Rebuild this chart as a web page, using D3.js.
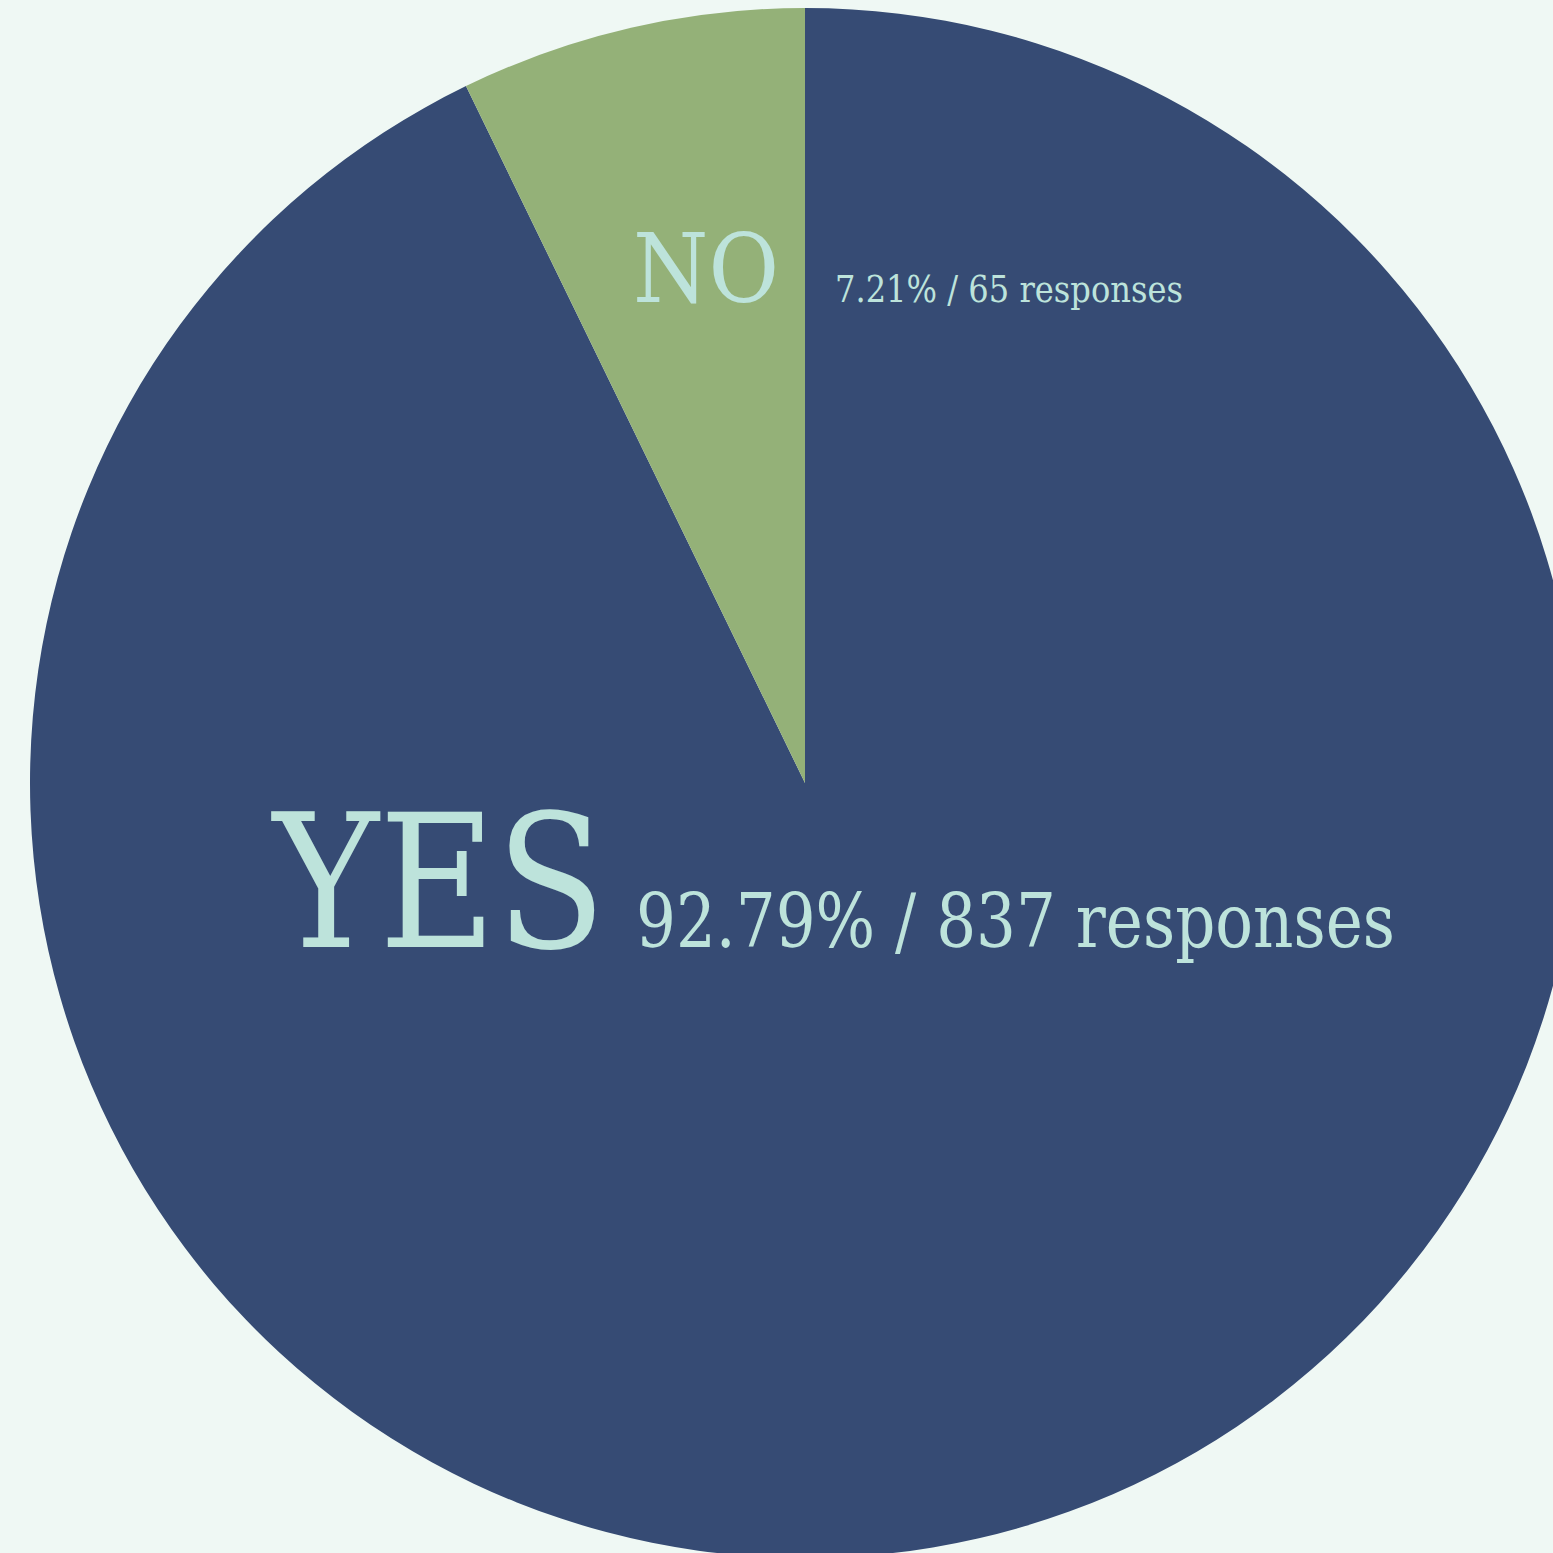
<!DOCTYPE html>
<html>
<head>
<meta charset="utf-8">
<script src="https://cdn.jsdelivr.net/npm/d3@7"></script>
<style>
html,body{margin:0;padding:0;background:#eff8f4;overflow:hidden;}
svg{display:block;}
</style>
</head>
<body>
<svg id="chart" width="1553" height="1553"></svg>
<script>
const categories = ["YES", "NO"];
const responses = [837, 65];
const percentLabels = ["92.79%", "7.21%"];
const colors = ["#364b74", "#94b178"];

const W = 1553, H = 1553;
const cx = 805, cy = 783, R = 775;
const svg = d3.select("#chart");
svg.append("rect").attr("width", W).attr("height", H).attr("fill", "#eff8f4");

const data = categories.map((c, i) => ({cat: c, value: responses[i], pct: percentLabels[i], color: colors[i]}));
const pie = d3.pie().sort(null).value(d => d.value);
const arc = d3.arc().innerRadius(0).outerRadius(R);
const g = svg.append("g").attr("transform", `translate(${cx},${cy})`);
g.selectAll("path").data(pie(data)).join("path")
  .attr("d", arc).attr("fill", d => d.data.color);

const font = "'DejaVu Serif', serif";
const txt = "#bde3db";
// label layout: [big label x-end, baseline, size, width], [small label x-start, size, width]
const layout = {
  YES: {bx: 606, by: 947, bs: 186, bw: 333, sx: 636, ss: 74, sw: 759},
  NO:  {bx: 779, by: 302, bs: 96,  bw: 146, sx: 835, ss: 38, sw: 348}
};
data.forEach(d => {
  const L = layout[d.cat];
  svg.append("text").attr("x", L.bx).attr("y", L.by)
    .attr("text-anchor", "end").attr("font-family", font).attr("font-size", L.bs)
    .attr("font-weight", 300)
    .attr("textLength", L.bw).attr("lengthAdjust", "spacingAndGlyphs")
    .attr("fill", txt).text(d.cat);
  svg.append("text").attr("x", L.sx).attr("y", L.by)
    .attr("font-family", font).attr("font-size", L.ss)
    .attr("textLength", L.sw).attr("lengthAdjust", "spacingAndGlyphs")
    .attr("fill", txt).text(`${d.pct} / ${d.value} responses`);
});
</script>
</body>
</html>
